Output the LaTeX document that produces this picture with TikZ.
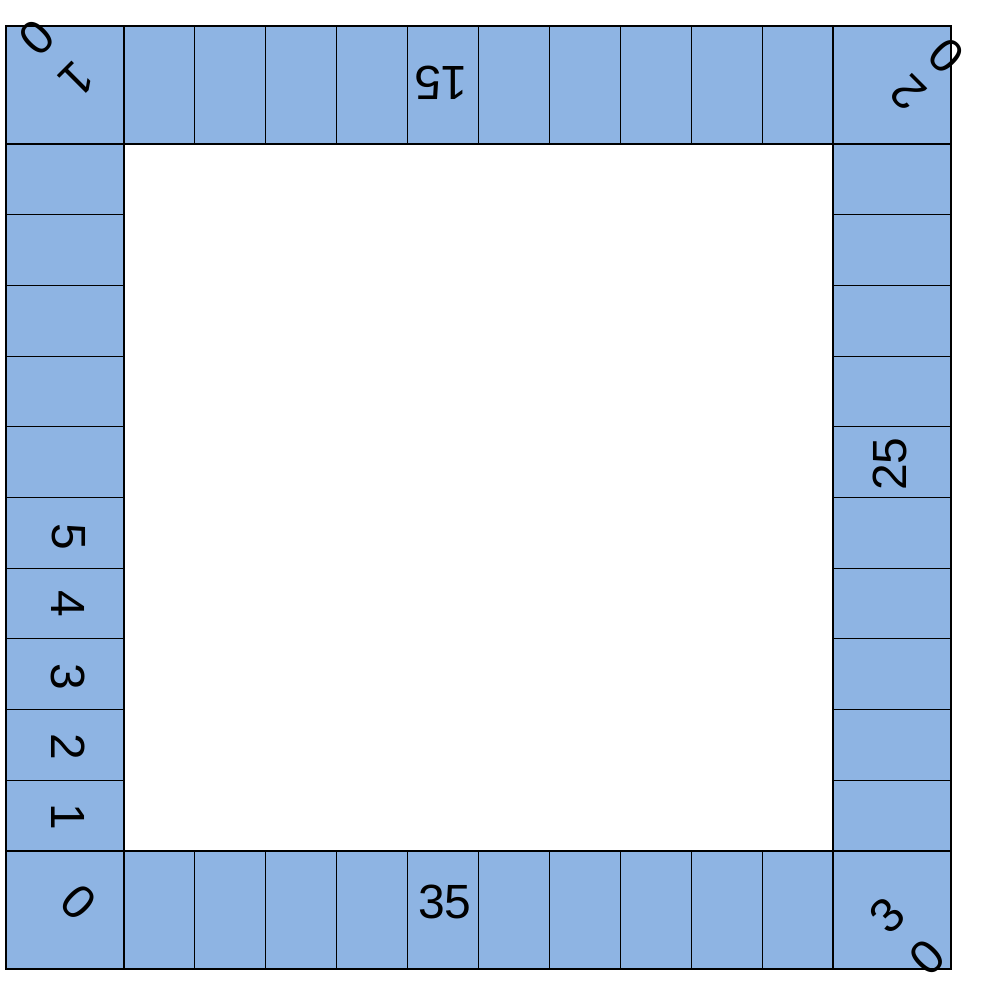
\documentclass[tikz,border=0pt]{standalone}
\usepackage{fontspec}
\setmainfont{Liberation Sans}
\definecolor{cellblue}{RGB}{142,180,227}
\begin{document}
\begin{tikzpicture}[x=1pt,y=-1pt,
  cell/.style={draw=black,fill=cellblue,line width=1.1pt},
  lbl/.style={inner sep=0pt,font=\fontsize{48}{58}\selectfont}]
\useasboundingbox (0,0) rectangle (985,995);
% corner squares
\draw[cell] (6,26) rectangle (124,144);
\draw[cell] (833,26) rectangle (951,144);
\draw[cell] (6,851) rectangle (124,969);
\draw[cell] (833,851) rectangle (951,969);
% side cells
\foreach \i in {0,...,9} {
  \pgfmathsetmacro\a{124+70.9*\i}
  \pgfmathsetmacro\b{124+70.9*(\i+1)}
  \pgfmathsetmacro\c{144+70.7*\i}
  \pgfmathsetmacro\d{144+70.7*(\i+1)}
  \draw[cell] (\a,26) rectangle (\b,144);
  \draw[cell] (\a,851) rectangle (\b,969);
  \draw[cell] (6,\c) rectangle (124,\d);
  \draw[cell] (833,\c) rectangle (951,\d);
}
% left side labels
\node[lbl,rotate=-90] (n1) at (68,817) {1};
\node[lbl,rotate=-90] (n2) at (68,747) {2};
\node[lbl,rotate=-90] (n3) at (68,677) {3};
\node[lbl,rotate=-90] (n4) at (68,604) {4};
\node[lbl,rotate=-90] (n5) at (69,537) {5};
% other side labels
\node[lbl,rotate=180] (n15) at (441,83) {15};
\node[lbl,rotate=90] (n25) at (890,464) {25};
\node[lbl] (n35) at (445,902) {35};
% corner labels
\node[lbl,rotate=-45] (c0) at (79,902) {0};
\node[lbl,rotate=225] (c10a) at (77,80) {1};
\node[lbl,rotate=225] (c10b) at (37,38) {0};
\node[lbl,rotate=135] (c20a) at (908,93) {2};
\node[lbl,rotate=135] (c20b) at (946,56) {0};
\node[lbl,rotate=45] (c30a) at (887,915) {3};
\node[lbl,rotate=45] (c30b) at (927,957) {0};
\end{tikzpicture}
\end{document}
